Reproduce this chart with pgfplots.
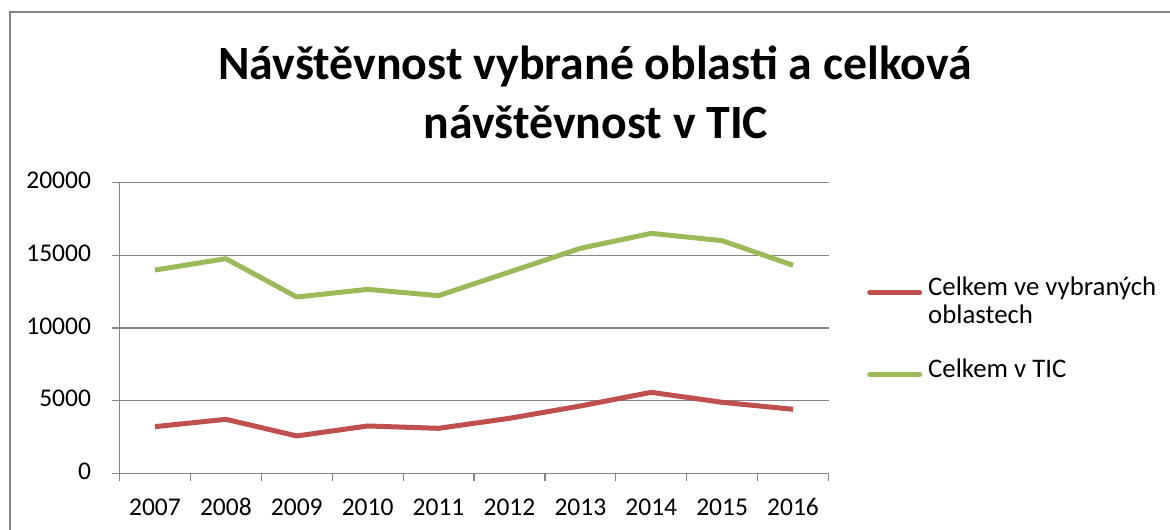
\documentclass[border=0pt]{standalone}
\usepackage{pgfplots}
\pgfplotsset{compat=1.18}
\usepackage{fontspec}
\setmainfont{Carlito}
\definecolor{exred}{RGB}{192,80,77}
\definecolor{exgreen}{RGB}{155,187,89}
\definecolor{exgray}{RGB}{134,134,134}
\begin{document}
\begin{tikzpicture}[x=1pt,y=1pt]
\useasboundingbox (0,0) rectangle (1170,530);
\draw[exgray,line width=1.5pt] (10,0) -- (10,518) -- (1170,518);
\node[font=\bfseries\fontsize{47.8}{57}\selectfont,anchor=base] at (595,450) {Návštěvnost vybrané oblasti a celková};
\node[font=\bfseries\fontsize{47.8}{57}\selectfont,anchor=base] at (596,391) {návštěvnost v TIC};
\begin{axis}[
  at={(119.5pt,56.7pt)}, anchor=south west,
  scale only axis, width=709pt, height=290.6pt,
  xmin=0.5, xmax=10.5, ymin=0, ymax=20000,
  xtick={1,...,10},
  xticklabels={2007,2008,2009,2010,2011,2012,2013,2014,2015,2016},
  minor xtick={0.5,1.5,...,10.5},
  ytick={0,5000,10000,15000,20000},
  scaled y ticks=false,
  major x tick style={draw=none},
  tick align=outside,
  major tick length=8pt, minor tick length=8pt,
  axis x line*=bottom, axis y line*=left,
  axis line style={exgray,line width=1.2pt},
  tick style={exgray,line width=1.2pt},
  ymajorgrids, grid style={exgray,line width=1.2pt},
  /pgf/number format/assume math mode=true,
  /pgf/number format/1000 sep={},
  ticklabel style={font=\fontsize{25.5}{31}\selectfont},
  yticklabel style={xshift=-17pt},
  typeset ticklabels with strut,
  xticklabel style={yshift=-9pt},
  legend style={at={(rel axis cs:1,0.696)}, anchor=north west, xshift=38.5pt,
    draw=none, fill=none, inner sep=0pt, row sep=0pt, column sep=4pt,
    font=\fontsize{26.8}{32}\selectfont, cells={anchor=base west, inner sep=0pt}},
  legend image code/.code={\draw[#1,line cap=round] (2.5pt,0.3em) -- (52.5pt,0.3em);},
]
\addplot[exred, line width=5pt, line join=round] coordinates {
(1,3211) (2,3716) (3,2569) (4,3257) (5,3096) (6,3784) (7,4633) (8,5573) (9,4885) (10,4404)};
\addlegendentry{\strut Celkem ve vybraných}
\addlegendimage{legend image code/.code={\path[draw=none,fill=none] (0pt,-29.6pt) rectangle (55pt,0pt);}}
\addlegendentry{\strut oblastech}
\addplot[exgreen, line width=5pt, line join=round] coordinates {
(1,13991) (2,14771) (3,12133) (4,12661) (5,12225) (6,13853) (7,15482) (8,16514) (9,16009) (10,14312)};
\addlegendentry{\strut Celkem v TIC}
\end{axis}
\end{tikzpicture}
\end{document}
